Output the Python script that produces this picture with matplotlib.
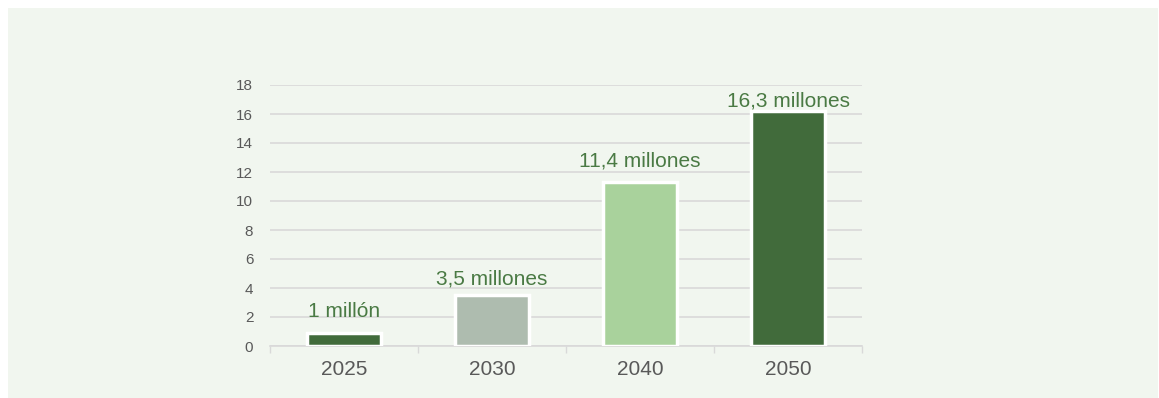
import matplotlib.pyplot as plt
from matplotlib.patches import Rectangle
import numpy as np

# data
years = ["2025", "2030", "2040", "2050"]
values = [0.9, 3.5, 11.3, 16.2]
labels = ["1 millón", "3,5 millones", "11,4 millones", "16,3 millones"]
colors = ["#416B3B", "#AEBCAF", "#A9D29C", "#416B3B"]
yticks = [0, 2, 4, 6, 8, 10, 12, 14, 16, 18]

# label offsets above the bar tops (points), placed by hand as in the original
label_offsets = [11.5, 8, 11, 3.5]

plt.rcParams['font.family'] = ['Liberation Sans', 'DejaVu Sans']

W, H = 1159, 398
fig = plt.figure(figsize=(W / 100, H / 100), dpi=100)
fig.patch.set_facecolor("white")

# light green panel behind the chart
fig.patches.append(Rectangle((8 / W, 0), (W - 9) / W, (H - 8) / H,
                             transform=fig.transFigure, facecolor="#F1F6EF",
                             edgecolor="none", zorder=-5))

ax = fig.add_axes([270 / W, (H - 346) / H, 592 / W, 261 / H])
ax.set_facecolor("none")

x = np.arange(len(years))
bars = ax.bar(x, values, width=0.5, color=colors, edgecolor="white",
              linewidth=2.5, zorder=3)

for b, lab, off in zip(bars, labels, label_offsets):
    ax.annotate(lab, (b.get_x() + b.get_width() / 2, b.get_height()),
                xytext=(0, off), textcoords="offset points", ha="center",
                va="baseline", fontsize=15, color="#4A7A44", clip_on=False)

ax.set_xlim(-0.5, len(years) - 0.5)
ax.set_ylim(0, 18)
ax.set_yticks(yticks)
ax.set_yticklabels([str(t) for t in yticks])
ax.tick_params(axis="y", length=0, pad=12, labelsize=11, labelcolor="#595959")

ax.set_xticks(x)
ax.set_xticklabels(years)
ax.set_xticks(np.arange(-0.5, len(years)), minor=True)
ax.tick_params(axis="x", which="major", length=0, pad=10, labelsize=15,
               labelcolor="#595959")
ax.tick_params(axis="x", which="minor", length=5, width=1, color="#D9D9D9")

ax.yaxis.grid(True, color="#D9D9D9", linewidth=1.2, zorder=0)
ax.set_axisbelow(True)
for s in ["top", "right", "left"]:
    ax.spines[s].set_visible(False)
ax.spines["bottom"].set_color("#D9D9D9")
ax.spines["bottom"].set_linewidth(1.2)

fig.savefig("out.png", dpi=100)
